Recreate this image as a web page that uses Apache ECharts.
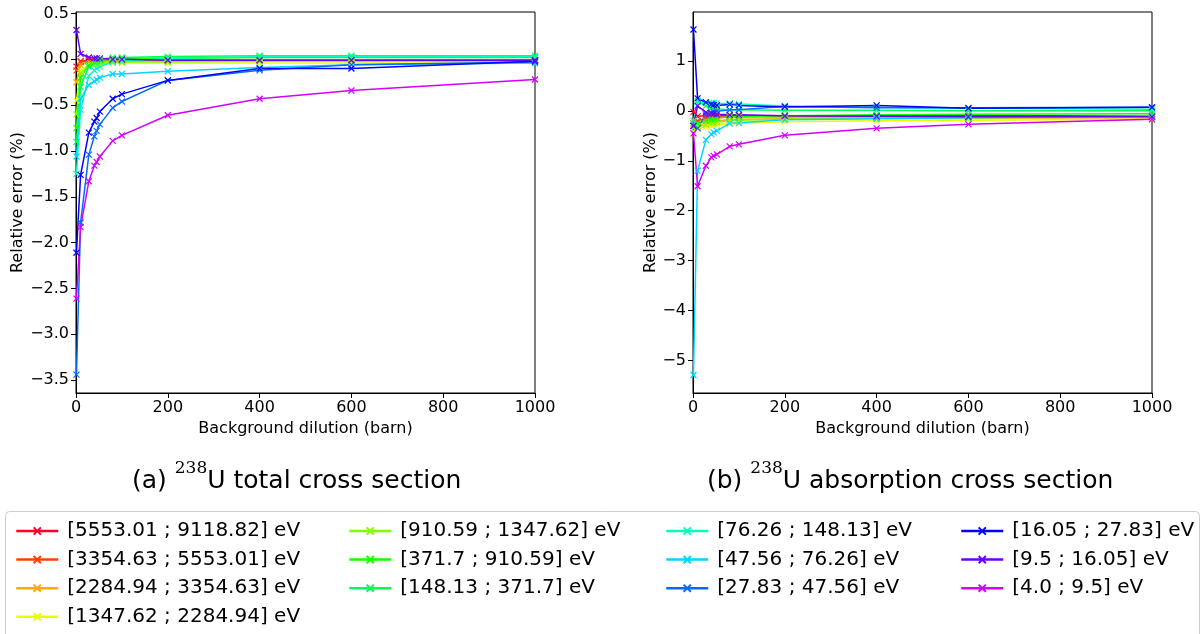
<!DOCTYPE html>
<html>
<head>
<meta charset="utf-8">
<script src="https://cdn.jsdelivr.net/npm/echarts@6/dist/echarts.min.js"></script>
<style>
  html, body { margin: 0; padding: 0; background: #ffffff; }
  #chart { width: 1204px; height: 634px; }
</style>
</head>
<body>
<div id="chart"></div>
<script>
// Background dilution grid (barn)
const dilution = [1, 10, 28, 40, 45, 52, 80, 100, 200, 400, 600, 1000];

// Energy groups, highest first
const groups = [
  '[5553.01 ; 9118.82] eV', '[3354.63 ; 5553.01] eV', '[2284.94 ; 3354.63] eV',
  '[1347.62 ; 2284.94] eV', '[910.59 ; 1347.62] eV', '[371.7 ; 910.59] eV',
  '[148.13 ; 371.7] eV', '[76.26 ; 148.13] eV', '[47.56 ; 76.26] eV',
  '[27.83 ; 47.56] eV', '[16.05 ; 27.83] eV', '[9.5 ; 16.05] eV', '[4.0 ; 9.5] eV'
];

// gist_rainbow sampled at i/13
const groupColors = [
  '#ff0029', '#ff4100', '#ffaa00', '#e9ff00', '#80ff00', '#15ff00', '#00ff54',
  '#00ffbe', '#00d6ff', '#006bff', '#0001ff', '#6900ff', '#d400ff'
];

// Relative error (%) of the 238U total cross section, one row per group
const totalError = [
  [-0.08, -0.02, -0.01, -0.01, -0.01, -0.01, -0.01, -0.01, -0.01, -0.01, -0.01, -0.01],
  [-0.12, -0.03, -0.02, -0.02, -0.02, -0.02, -0.02, -0.01, -0.01, -0.01, -0.01, -0.01],
  [-0.25, -0.06, -0.03, -0.03, -0.03, -0.02, -0.02, -0.02, -0.02, -0.02, -0.02, -0.02],
  [-0.45, -0.12, -0.06, -0.05, -0.05, -0.05, -0.04, -0.04, -0.04, -0.04, -0.04, -0.04],
  [-0.60, -0.15, -0.07, -0.05, -0.05, -0.04, -0.03, -0.03, -0.03, -0.02, -0.02, -0.02],
  [-0.75, -0.20, -0.06, -0.03, -0.02, -0.01, 0.00, 0.01, 0.01, 0.02, 0.02, 0.02],
  [-0.90, -0.30, -0.08, -0.03, -0.01, 0.00, 0.02, 0.02, 0.03, 0.04, 0.04, 0.04],
  [-1.25, -0.55, -0.18, -0.12, -0.10, -0.08, -0.03, -0.02, 0.01, 0.03, 0.03, 0.03],
  [-1.06, -0.43, -0.28, -0.24, -0.22, -0.20, -0.16, -0.16, -0.13, -0.09, -0.06, -0.04],
  [-3.44, -1.78, -1.04, -0.84, -0.78, -0.71, -0.53, -0.46, -0.23, -0.12, -0.06, -0.03],
  [-2.11, -1.26, -0.80, -0.68, -0.64, -0.57, -0.43, -0.38, -0.23, -0.10, -0.10, -0.02],
  [0.32, 0.06, 0.02, 0.01, 0.01, 0.01, 0.00, 0.00, -0.01, -0.01, -0.01, -0.01],
  [-2.61, -1.83, -1.33, -1.16, -1.12, -1.06, -0.89, -0.83, -0.61, -0.43, -0.34, -0.22]
];

// Relative error (%) of the 238U absorption cross section, one row per group
const absorptionError = [
  [-0.02, -0.11, -0.10, -0.10, -0.10, -0.10, -0.10, -0.10, -0.10, -0.10, -0.10, -0.10],
  [-0.25, -0.20, -0.15, -0.14, -0.13, -0.13, -0.12, -0.12, -0.12, -0.12, -0.12, -0.12],
  [-0.30, -0.30, -0.25, -0.22, -0.21, -0.20, -0.18, -0.17, -0.16, -0.15, -0.15, -0.14],
  [-0.40, -0.35, -0.32, -0.30, -0.29, -0.28, -0.26, -0.25, -0.22, -0.20, -0.19, -0.17],
  [-0.35, -0.32, -0.28, -0.25, -0.24, -0.23, -0.20, -0.19, -0.17, -0.15, -0.14, -0.13],
  [-0.30, -0.25, -0.20, -0.17, -0.16, -0.15, -0.12, -0.12, -0.10, -0.08, -0.07, -0.06],
  [-0.30, 0.20, 0.10, 0.06, 0.05, 0.04, 0.02, 0.02, 0.01, 0.01, 0.00, 0.00],
  [-0.20, 0.18, 0.17, 0.16, 0.16, 0.15, 0.15, 0.14, 0.10, 0.07, 0.05, 0.03],
  [-5.29, -1.20, -0.58, -0.47, -0.43, -0.40, -0.25, -0.24, -0.18, -0.16, -0.14, -0.10],
  [-0.30, -0.35, -0.07, -0.04, -0.02, -0.01, 0.02, 0.02, 0.09, 0.06, 0.06, 0.07],
  [1.63, 0.25, 0.17, 0.13, 0.12, 0.11, 0.13, 0.11, 0.08, 0.11, 0.05, 0.07],
  [-0.30, 0.10, -0.03, -0.05, -0.06, -0.07, -0.08, -0.08, -0.10, -0.11, -0.12, -0.12],
  [-0.45, -1.51, -1.10, -0.93, -0.90, -0.87, -0.71, -0.67, -0.49, -0.35, -0.27, -0.17]
];

// Axis ticks
const dilutionTicks = [0, 200, 400, 600, 800, 1000];
const totalTicks = [-3.5, -3.0, -2.5, -2.0, -1.5, -1.0, -0.5, 0.0, 0.5];
const absorptionTicks = [-5, -4, -3, -2, -1, 0, 1];

// Legend columns (group indices)
const legendColumns = [[0, 1, 2, 3], [4, 5, 6], [7, 8, 9], [10, 11, 12]];

const FONT = 'DejaVu Sans';
const crossMark = 'path://M0,0L10,10M10,0L0,10';

function minusLabel(digits) {
  return function (v) {
    const s = Math.abs(v).toFixed(digits);
    return (v < -1e-9 ? '\u2212' : '') + s;
  };
}

function xAxisFor(gridIndex) {
  return {
    gridIndex: gridIndex,
    type: 'value',
    min: 0, max: 1000, interval: 200,
    name: 'Background dilution (barn)',
    nameLocation: 'middle', nameGap: 22,
    nameTextStyle: { fontFamily: FONT, fontSize: 16, color: '#000' },
    axisLine: { show: true, onZero: false, lineStyle: { color: '#000', width: 1 } },
    axisTick: { show: true, inside: false, length: 5, customValues: dilutionTicks, lineStyle: { color: '#000' } },
    axisLabel: {
      fontFamily: FONT, fontSize: 16, color: '#000', margin: 7, customValues: dilutionTicks,
      formatter: function (v) { return String(v); }
    },
    splitLine: { show: false }
  };
}

function yAxisFor(gridIndex, min, max, ticks, digits, gap) {
  return {
    gridIndex: gridIndex,
    type: 'value',
    min: min, max: max,
    name: 'Relative error (%)',
    nameLocation: 'middle', nameGap: gap,
    nameTextStyle: { fontFamily: FONT, fontSize: 16, color: '#000' },
    axisLine: { show: true, onZero: false, lineStyle: { color: '#000', width: 1 } },
    axisTick: { show: true, inside: false, length: 5, customValues: ticks, lineStyle: { color: '#000' } },
    axisLabel: { fontFamily: FONT, fontSize: 16, color: '#000', margin: 7, customValues: ticks, formatter: minusLabel(digits) },
    splitLine: { show: false }
  };
}

const series = [];
function addPanel(rows, axisIndex) {
  rows.forEach(function (vals, i) {
    series.push({
      type: 'line',
      name: groups[i],
      xAxisIndex: axisIndex, yAxisIndex: axisIndex,
      data: dilution.map(function (d, k) { return [d, vals[k]]; }),
      symbol: crossMark,
      symbolSize: 6,
      showSymbol: true,
      lineStyle: { color: groupColors[i], width: 1.5 },
      itemStyle: { color: groupColors[i], borderColor: groupColors[i], borderWidth: 1.2 },
      emphasis: { disabled: true },
      clip: true
    });
  });
}
addPanel(totalError, 0);
addPanel(absorptionError, 1);

const legendLefts = [10, 343, 660, 955];
const legends = legendColumns.map(function (col, c) {
  return {
    orient: 'vertical',
    left: legendLefts[c], top: 516,
    data: col.map(function (i) { return groups[i]; }),
    itemWidth: 42, itemHeight: 9, itemGap: 8.6,
    selectedMode: false,
    textStyle: { fontFamily: FONT, fontSize: 20, color: '#000', lineHeight: 20, padding: [0, 0, 0, 4] },
    lineStyle: { width: 2.5 }
  };
});

const chart = echarts.init(document.getElementById('chart'), null, { renderer: 'canvas' });
chart.setOption({
  animation: false,
  backgroundColor: '#ffffff',
  color: groupColors,
  grid: [
    { left: 76, top: 12, width: 459, height: 381, show: true, borderColor: '#000', borderWidth: 1, backgroundColor: 'transparent' },
    { left: 693, top: 12, width: 459, height: 381, show: true, borderColor: '#000', borderWidth: 1, backgroundColor: 'transparent' }
  ],
  xAxis: [xAxisFor(0), xAxisFor(1)],
  yAxis: [
    yAxisFor(0, -3.64, 0.516, totalTicks, 1, 47),
    yAxisFor(1, -5.65, 1.98, absorptionTicks, 0, 32)
  ],
  legend: legends,
  graphic: [
    {
      type: 'rect', z: -1,
      shape: { x: 5.5, y: 511.5, width: 1194, height: 140, r: 4 },
      style: { fill: '#ffffff', stroke: '#cccccc', lineWidth: 1 }
    },
    {
      type: 'text', left: 132, top: 460,
      style: {
        text: '{a|(a) }{s|238}{a|U total cross section}',
        rich: {
          a: { fontFamily: FONT, fontSize: 25, fill: '#000', lineHeight: 34, verticalAlign: 'bottom' },
          s: { fontFamily: 'DejaVu Serif', fontSize: 17, fill: '#000', lineHeight: 34, verticalAlign: 'top' }
        }
      }
    },
    {
      type: 'text', left: 707, top: 460,
      style: {
        text: '{a|(b) }{s|238}{a|U absorption cross section}',
        rich: {
          a: { fontFamily: FONT, fontSize: 25, fill: '#000', lineHeight: 34, verticalAlign: 'bottom' },
          s: { fontFamily: 'DejaVu Serif', fontSize: 17, fill: '#000', lineHeight: 34, verticalAlign: 'top' }
        }
      }
    }
  ],
  series: series
});
</script>
</body>
</html>
